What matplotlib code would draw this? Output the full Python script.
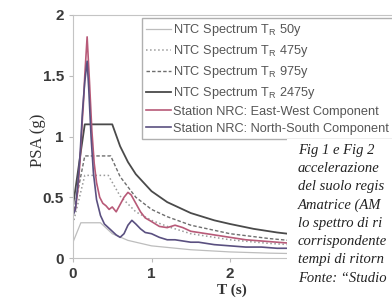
import matplotlib
matplotlib.use("Agg")
import matplotlib.pyplot as plt
from matplotlib.patches import Rectangle

plt.rcParams['font.family'] = ['Liberation Sans', 'DejaVu Sans']
plt.rcParams['mathtext.fontset'] = 'custom'
plt.rcParams['mathtext.rm'] = 'Liberation Sans'

# NTC design spectra
t_50 = [0, 0.1, 0.35, 0.5, 0.7, 1.0, 1.5, 2.0, 2.5, 3.0, 4.0]
sa_50 = [0.13, 0.29, 0.29, 0.20, 0.145, 0.10, 0.068, 0.05, 0.04, 0.034, 0.025]

t_475 = [0, 0.15, 0.45, 0.6, 0.8, 1.0, 1.2, 1.5, 2.0, 2.5, 3.0, 4.0]
sa_475 = [0.28, 0.68, 0.68, 0.51, 0.38, 0.31, 0.26, 0.20, 0.15, 0.12, 0.10, 0.08]

t_975 = [0, 0.15, 0.48, 0.6, 0.8, 1.0, 1.2, 1.5, 2.0, 2.5, 3.0, 4.0]
sa_975 = [0.35, 0.84, 0.84, 0.67, 0.50, 0.40, 0.34, 0.27, 0.20, 0.16, 0.13, 0.10]

t_2475 = [0, 0.15, 0.5, 0.6, 0.7, 0.8, 1.0, 1.2, 1.5, 1.8, 2.0, 2.3, 2.6, 3.0, 3.5, 4.0]
sa_2475 = [0.43, 1.10, 1.10, 0.92, 0.79, 0.69, 0.55, 0.46, 0.37, 0.31, 0.28, 0.24, 0.21, 0.18, 0.16, 0.14]

# recorded spectra, station NRC
t_ew = [0, 0.03, 0.06, 0.09, 0.12, 0.13, 0.15, 0.18, 0.21, 0.24, 0.27, 0.3, 0.34, 0.38,
        0.42, 0.46, 0.5, 0.55, 0.6, 0.65, 0.7, 0.74, 0.8, 0.86, 0.92, 1.0, 1.1, 1.2,
        1.3, 1.4, 1.5, 1.6, 1.8, 2.0, 2.2, 2.4, 2.6, 2.8]
sa_ew = [0.37, 0.40, 0.55, 0.80, 1.15, 1.24, 1.50, 1.82, 1.45, 1.05, 0.78, 0.62, 0.50, 0.45,
         0.43, 0.40, 0.42, 0.38, 0.44, 0.50, 0.54, 0.52, 0.45, 0.38, 0.33, 0.30, 0.26, 0.25,
         0.27, 0.25, 0.22, 0.21, 0.19, 0.17, 0.15, 0.14, 0.13, 0.12]

t_ns = [0, 0.03, 0.06, 0.09, 0.12, 0.15, 0.18, 0.2, 0.23, 0.26, 0.3, 0.35, 0.4, 0.45,
        0.5, 0.55, 0.6, 0.65, 0.7, 0.75, 0.8, 0.86, 0.92, 1.0, 1.1, 1.2, 1.3, 1.4,
        1.5, 1.6, 1.8, 2.0, 2.2, 2.4, 2.6, 2.8]
sa_ns = [0.35, 0.40, 0.60, 0.85, 1.20, 1.45, 1.62, 1.40, 1.00, 0.70, 0.48, 0.35, 0.28, 0.25,
         0.22, 0.19, 0.17, 0.20, 0.27, 0.31, 0.28, 0.24, 0.21, 0.20, 0.17, 0.15, 0.15, 0.14,
         0.13, 0.13, 0.11, 0.10, 0.09, 0.09, 0.08, 0.08]

caption_lines = ["Fig 1 e Fig 2", "accelerazione", "del suolo regis", "Amatrice (AM",
                 "lo spettro di ri", "corrispondente", "tempi di ritorn", "Fonte: \u201cStudio"]

fig = plt.figure(figsize=(3.92, 2.98), dpi=100)
ax = fig.add_axes([73/392, 40/298, 319/392, 243/298])

ax.plot(t_50, sa_50, '-', color='#bdbdbd', lw=0.9, label=r'NTC Spectrum T$_{\mathrm{R}}$ 50y')
ax.plot(t_475, sa_475, ':', color='#9a9a9a', lw=1.1, label=r'NTC Spectrum T$_{\mathrm{R}}$ 475y')
ax.plot(t_975, sa_975, '--', color='#6e6e6e', lw=1.0, dashes=(2.5, 1.5),
        label=r'NTC Spectrum T$_{\mathrm{R}}$ 975y')
ax.plot(t_2475, sa_2475, '-', color='#4a4a4a', lw=1.3, label=r'NTC Spectrum T$_{\mathrm{R}}$ 2475y')
ax.plot(t_ew, sa_ew, '-', color='#b85a78', lw=1.2, label='Station NRC: East-West Component')
ax.plot(t_ns, sa_ns, '-', color='#5a5080', lw=1.2, label='Station NRC: North-South Component')

ax.set_xlim(0, 319/78.5)
ax.set_ylim(0, 2)
ax.set_xticks([0, 1, 2])
ax.set_yticks([0, 0.5, 1, 1.5, 2])
ax.set_yticklabels(['0', '0.5', '1', '1.5', '2'])
ax.tick_params(labelsize=11, colors='#bbbbbb', labelcolor='#3a3a3a', length=3, width=0.8)
for lab in ax.get_xticklabels() + ax.get_yticklabels():
    lab.set_fontweight('bold')
for s in ['left', 'bottom', 'top']:
    ax.spines[s].set_color('#c4c4c4')
ax.spines['right'].set_visible(False)

ax.set_ylabel('PSA (g)', family='Liberation Serif', fontsize=12, color='#333333')
ax.yaxis.set_label_coords(-0.11, 0.486)
ax.yaxis.label.set_va('center')
ax.set_xlabel('T (s)', family='Liberation Serif', fontsize=11, fontweight='bold', color='#333333')
ax.xaxis.set_label_coords(0.498, -0.132)
ax.xaxis.label.set_va('center')

leg = ax.legend(loc='upper left', bbox_to_anchor=(142/392, 1 - 18/298),
                bbox_transform=fig.transFigure, borderaxespad=0, fontsize=9.2,
                handlelength=1.9, handletextpad=0.15, labelspacing=0.38,
                borderpad=0.35, fancybox=False, framealpha=1)
leg.get_frame().set_edgecolor('#b0b0b0')
leg.get_frame().set_linewidth(1.0)
for txt in leg.get_texts():
    txt.set_color('#555555')

# caption area of the page covering the lower right of the chart
fig.add_artist(Rectangle((287/392, 0), 1 - 287/392, (298 - 139)/298,
                         transform=fig.transFigure, facecolor='white', edgecolor='none', zorder=5))
for i, line in enumerate(caption_lines):
    fig.text(298/392, 1 - (150 + i*18.3)/298, line, family='Liberation Serif', style='italic',
             fontsize=10.5, color='#222222', va='center', ha='left', zorder=6)

fig.savefig('out.png', dpi=100)
